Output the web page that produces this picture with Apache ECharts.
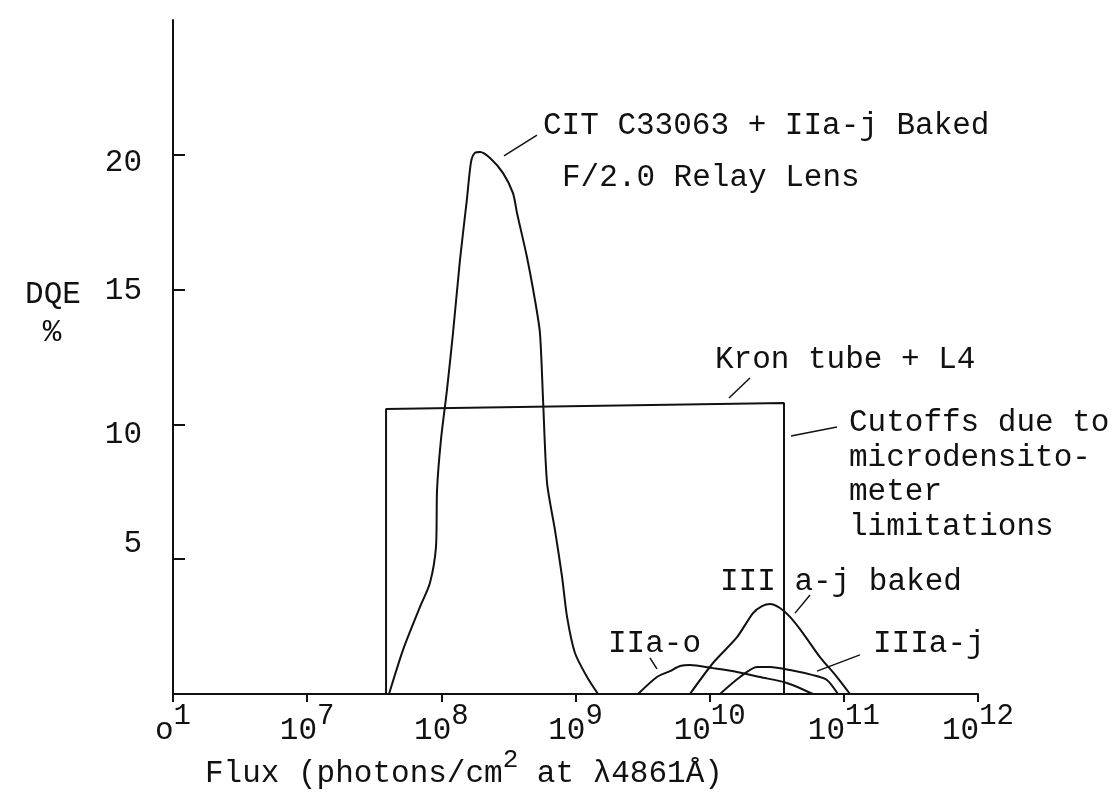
<!DOCTYPE html>
<html>
<head>
<meta charset="UTF-8">
<title>DQE vs Flux</title>
<script src="https://cdn.jsdelivr.net/npm/echarts@6.0.0/dist/echarts.min.js"></script>
<style>
    html, body { margin: 0; padding: 0; background: #fff; }
    #main { width: 1113px; height: 794px; }
</style>
</head>
<body>
<div id="main"></div>
<script>
    // x values are log10(flux), y values are DQE %
    const citLogFlux = [7.61, 7.714, 7.841, 7.915, 7.96, 7.968, 7.997, 8.042, 8.087, 8.139, 8.19, 8.221, 8.25, 8.288, 8.363, 8.46, 8.534, 8.564, 8.638, 8.698, 8.735, 8.758, 8.788, 8.847, 8.9, 8.937, 8.996, 9.086, 9.168];
    const citDqe = [0, 1.63, 3.23, 4.12, 5.45, 7.57, 9.42, 11.28, 13.39, 16.10, 18.32, 19.73, 20.07, 20.10, 19.88, 19.32, 18.58, 17.84, 16.21, 14.61, 13.39, 10.93, 7.83, 6.08, 4.34, 2.86, 1.52, 0.63, 0];

    const kronLogFlux = [7.588, 7.588, 10.554, 10.554];
    const kronDqe = [0, 10.57, 10.79, 0];

    const bakedLogFlux = [9.853, 10.025, 10.204, 10.323, 10.39, 10.45, 10.524, 10.599, 10.695, 10.822, 10.949, 11.046];
    const bakedDqe = [0, 1.15, 2.11, 3.0, 3.26, 3.34, 3.19, 2.86, 2.26, 1.37, 0.63, 0];

    const iiaoLogFlux = [9.466, 9.607, 9.704, 9.779, 9.853, 10.025, 10.204, 10.375, 10.576, 10.77];
    const iiaoDqe = [0, 0.63, 0.85, 1.04, 1.08, 0.96, 0.82, 0.63, 0.41, 0];

    const iiiajLogFlux = [10.077, 10.226, 10.353, 10.45, 10.599, 10.77, 10.874, 10.956];
    const iiiajDqe = [0, 0.63, 1.0, 1.0, 0.89, 0.7, 0.52, 0];

    // leader lines: [logFlux1, dqe1, logFlux2, dqe2]
    const leaderLines = [
        [8.713, 20.73, 8.467, 19.96],
        [10.300, 11.72, 10.144, 10.98],
        [10.606, 9.57, 10.949, 9.90],
        [10.748, 3.67, 10.636, 3.0],
        [9.555, 1.34, 9.607, 0.93],
        [11.12, 1.45, 10.80, 0.85]
    ];

    const xTicks = [1e6, 1e7, 1e8, 1e9, 1e10, 1e11, 1e12];
    const yTicks = [5, 10, 15, 20];

    const FONT = 'Liberation Mono';
    const INK = '#111';

    function toPairs(logs, vals) {
        return logs.map((l, i) => [Math.pow(10, l), vals[i]]);
    }

    function curve(name, logs, vals) {
        return {
            name: name,
            type: 'line',
            data: toPairs(logs, vals),
            showSymbol: false,
            smooth: 0.25,
            lineStyle: { color: INK, width: 2 },
            itemStyle: { color: INK }
        };
    }

    const chart = echarts.init(document.getElementById('main'));

    const option = {
        animation: false,
        backgroundColor: '#fff',
        grid: { left: 173, right: 135, top: 20, bottom: 100, containLabel: false, outerBoundsMode: 'none' },
        xAxis: {
            type: 'log',
            logBase: 10,
            min: 1e6,
            max: 1e12,
            splitLine: { show: false },
            axisLine: { lineStyle: { color: INK, width: 2 } },
            axisTick: { customValues: xTicks, length: 8, lineStyle: { color: INK, width: 2 } },
            axisLabel: {
                customValues: xTicks,
                margin: 8,
                color: INK,
                formatter: function (v) {
                    const e = Math.round(Math.log10(v));
                    if (e === 6) return '{b|o}{s|1}';
                    return '{b|10}{s|' + e + '}';
                },
                rich: {
                    b: { fontFamily: FONT, fontSize: 31, color: INK },
                    s: { fontFamily: FONT, fontSize: 29, color: INK, padding: [0, 0, 28, 0] }
                }
            }
        },
        yAxis: {
            type: 'value',
            min: 0,
            max: 25,
            splitLine: { show: false },
            axisLine: { show: true, lineStyle: { color: INK, width: 2 } },
            axisTick: { show: true, inside: true, length: 12, customValues: yTicks, lineStyle: { color: INK, width: 2 } },
            axisLabel: {
                customValues: yTicks,
                margin: 31,
                color: INK,
                formatter: function (v) { return '{y' + v + '|' + v + '}'; },
                rich: {
                    y5: { fontFamily: FONT, fontSize: 31, color: INK, padding: [0, 0, 30, 0] },
                    y10: { fontFamily: FONT, fontSize: 31, color: INK, padding: [20, 0, 0, 0] },
                    y15: { fontFamily: FONT, fontSize: 31, color: INK, padding: [2, 0, 0, 0] },
                    y20: { fontFamily: FONT, fontSize: 31, color: INK, padding: [16, 0, 0, 0] }
                }
            }
        },
        graphic: [
            { type: 'text', x: 53, y: 295, style: { text: 'DQE', fontFamily: FONT, fontSize: 31, fill: INK, align: 'center', verticalAlign: 'middle' } },
            { type: 'text', x: 52, y: 333, style: { text: '%', fontFamily: FONT, fontSize: 31, fill: INK, align: 'center', verticalAlign: 'middle' } },
            { type: 'text', x: 543, y: 125.5, style: { text: 'CIT C33063 + IIa-j Baked', fontFamily: FONT, fontSize: 31, fill: INK, verticalAlign: 'middle' } },
            { type: 'text', x: 562, y: 177.5, style: { text: 'F/2.0 Relay Lens', fontFamily: FONT, fontSize: 31, fill: INK, verticalAlign: 'middle' } },
            { type: 'text', x: 715, y: 359.5, style: { text: 'Kron tube + L4', fontFamily: FONT, fontSize: 31, fill: INK, verticalAlign: 'middle' } },
            { type: 'text', x: 849, y: 406, style: { text: 'Cutoffs due to\nmicrodensito-\nmeter\nlimitations', fontFamily: FONT, fontSize: 31, lineHeight: 34.5, fill: INK, verticalAlign: 'top' } },
            { type: 'text', x: 720, y: 581.5, style: { text: 'III a-j baked', fontFamily: FONT, fontSize: 31, fill: INK, verticalAlign: 'middle' } },
            { type: 'text', x: 608, y: 643.5, style: { text: 'IIa-o', fontFamily: FONT, fontSize: 31, fill: INK, verticalAlign: 'middle' } },
            { type: 'text', x: 873, y: 643.5, style: { text: 'IIIa-j', fontFamily: FONT, fontSize: 31, fill: INK, verticalAlign: 'middle' } },
            {
                type: 'text', x: 205, y: 773.5,
                style: {
                    text: '{a|Flux (photons/cm}{s|2}{a| at λ4861Å)}',
                    fill: INK,
                    verticalAlign: 'middle',
                    rich: {
                        a: { fontFamily: FONT, fontSize: 31, fill: INK },
                        s: { fontFamily: FONT, fontSize: 26, fill: INK, padding: [0, 0, 26, 0] }
                    }
                }
            }
        ],
        series: [
            curve('CIT C33063 + IIa-j Baked', citLogFlux, citDqe),
            {
                name: 'Kron tube + L4',
                type: 'line',
                data: toPairs(kronLogFlux, kronDqe),
                showSymbol: false,
                lineStyle: { color: INK, width: 2 },
                itemStyle: { color: INK },
                markLine: {
                    silent: true,
                    symbol: 'none',
                    label: { show: false },
                    lineStyle: { color: INK, width: 1.5, type: 'solid' },
                    data: leaderLines.map(l => [
                        { coord: [Math.pow(10, l[0]), l[1]] },
                        { coord: [Math.pow(10, l[2]), l[3]] }
                    ])
                }
            },
            curve('III a-j baked', bakedLogFlux, bakedDqe),
            curve('IIa-o', iiaoLogFlux, iiaoDqe),
            curve('IIIa-j', iiiajLogFlux, iiiajDqe)
        ]
    };

    chart.setOption(option);
</script>
</body>
</html>
